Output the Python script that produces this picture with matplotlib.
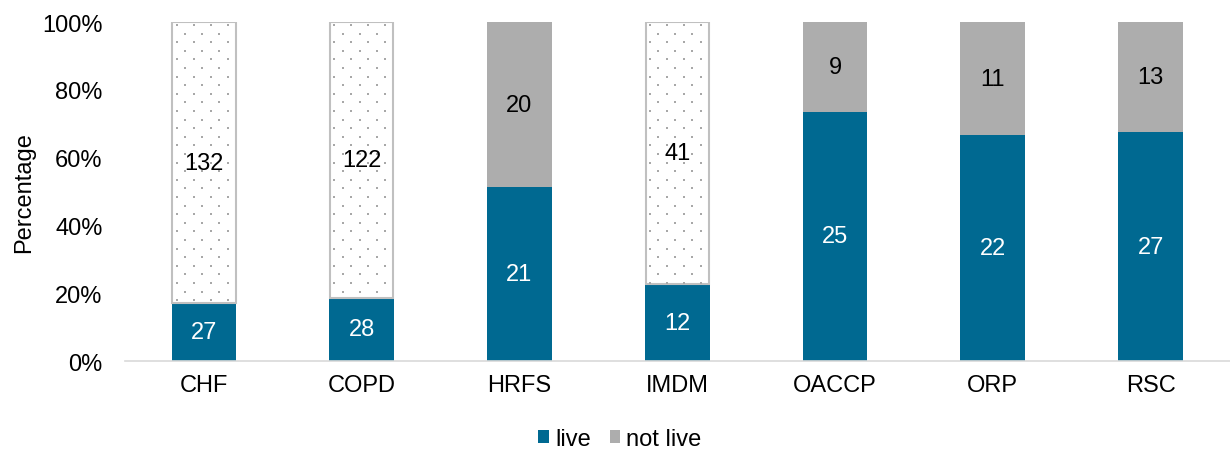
import matplotlib
matplotlib.use("Agg")
import numpy as np
import matplotlib.pyplot as plt
from matplotlib.ticker import PercentFormatter

plt.rcParams['font.family'] = ['Liberation Sans', 'DejaVu Sans']

categories = ["CHF", "COPD", "HRFS", "IMDM", "OACCP", "ORP", "RSC"]
live = [27, 28, 21, 12, 25, 22, 27]
not_live = [132, 122, 20, 41, 9, 11, 13]
dotted = [True, True, False, True, False, False, False]

live_color = "#006991"
gray = "#ADADAD"
FS = 17

totals = [a + b for a, b in zip(live, not_live)]
live_pct = [100 * a / t for a, t in zip(live, totals)]
not_pct = [100 * b / t for b, t in zip(not_live, totals)]

fig = plt.figure(figsize=(12.3, 4.52), dpi=100)
ax = fig.add_axes([0.1016, 0.199, 0.898, 0.750])

x = list(range(len(categories)))
width = 0.41
ax.set_xlim(-0.5, len(categories) - 0.5)
ax.set_ylim(0, 100)

ax.bar(x, live_pct, width, color=live_color, label="live", zorder=2)


def dot_fill(ax, xc, y0, y1, w, step_x=17.0, step_y=8.6):
    """Staggered dot pattern inside a bar, laid out in screen pixels."""
    to_px = ax.transData
    (px0, py0) = to_px.transform((xc - w / 2, y0))
    (px1, py1) = to_px.transform((xc + w / 2, y1))
    pts = []
    row = 0
    py = py1 - 3
    while py > py0 + 1:
        start = px0 + 5 + (step_x / 2 if row % 2 else 0)
        px = start
        while px < px1 - 2:
            pts.append((px, py))
            px += step_x
        py -= step_y
        row += 1
    pts = to_px.inverted().transform(np.array(pts))
    ax.scatter(pts[:, 0], pts[:, 1], s=1.6, marker="s", color="#A8A8A8",
               linewidths=0, zorder=3)


for i in x:
    if dotted[i]:
        ax.bar(i, not_pct[i], width - 0.008, bottom=live_pct[i], facecolor="white",
               edgecolor="#C0C0C0", linewidth=1.5, zorder=2)
        dot_fill(ax, i, live_pct[i], live_pct[i] + not_pct[i], width)
    else:
        ax.bar(i, not_pct[i], width, bottom=live_pct[i], color=gray, zorder=2)
ax.bar([0], [0], color=gray, label="not live")

for i in x:
    ax.text(i, live_pct[i] / 2, str(live[i]), ha="center", va="center",
            color="white", fontsize=FS, zorder=4)
    ax.text(i, live_pct[i] + not_pct[i] / 2, str(not_live[i]), ha="center",
            va="center", color="black", fontsize=FS, zorder=4)

ax.set_yticks(range(0, 101, 20))
ax.yaxis.set_major_formatter(PercentFormatter(decimals=0))
ax.set_xticks(x)
ax.set_xticklabels(categories)
ax.tick_params(axis="both", length=0, labelsize=FS, colors="black")
ax.tick_params(axis="x", pad=9)
ax.tick_params(axis="y", pad=16)
for s in ["top", "right", "left"]:
    ax.spines[s].set_visible(False)
ax.spines["bottom"].set_color("#D9D9D9")
ax.spines["bottom"].set_linewidth(1.2)
ax.set_ylabel("Percentage", fontsize=FS, labelpad=5)

handles, labels = ax.get_legend_handles_labels()
fig.legend(handles, labels, loc="center", bbox_to_anchor=(0.504, 0.026), ncol=2,
           frameon=False, fontsize=FS, handlelength=0.45, handleheight=0.45,
           handletextpad=0.25, columnspacing=0.8, borderpad=0)

fig.savefig("out.png", dpi=100)
